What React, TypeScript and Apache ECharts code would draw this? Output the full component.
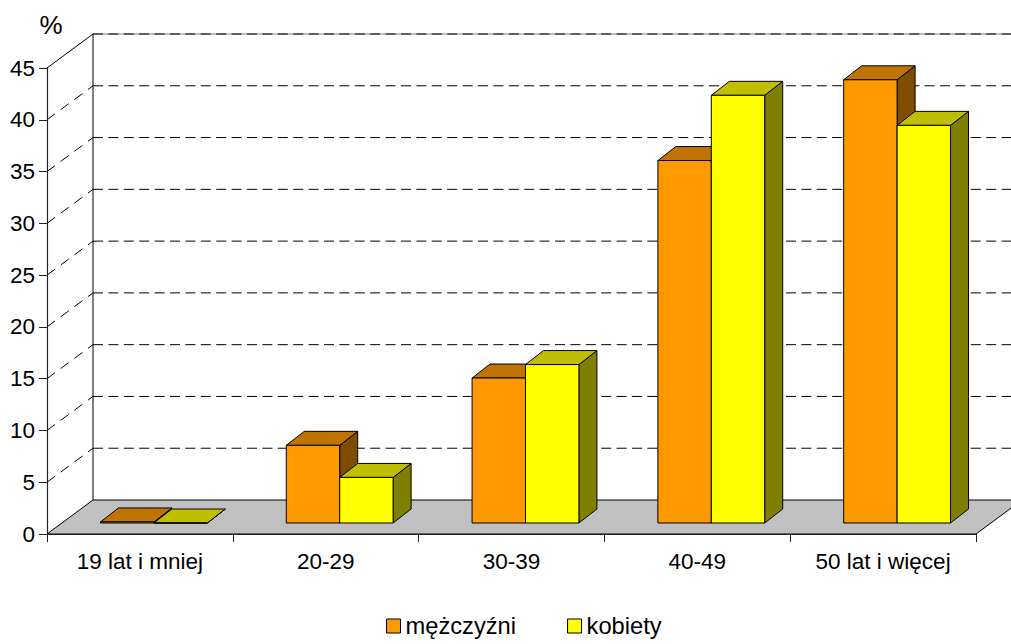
import React, { useEffect, useRef } from "react";
import * as echarts from "echarts";

const categories = ["19 lat i mniej", "20-29", "30-39", "40-49", "50 lat i więcej"];
const menValues = [0.1, 7.5, 14, 35, 42.8];
const womenValues = [0, 4.4, 15.3, 41.3, 38.4];
const yTicks = [0, 5, 10, 15, 20, 25, 30, 35, 40, 45];
const FONT = "'Liberation Sans', Arial, sans-serif";

const WALL_DX = 46, WALL_DY = -34;
const PLANE_DX = 14, PLANE_DY = -11;
const DEPTH_DX = 18, DEPTH_DY = -14;
const BAR_RATIO = 0.2875;

function barRenderer(seriesPos: number, front: string, top: string, side: string) {
  return (_params: any, api: any) => {
    const idx = api.value(0);
    const [cx, yTop] = api.coord([idx, api.value(1)]);
    const [, yBase] = api.coord([idx, 0]);
    const w = api.size([1, 0])[0] * BAR_RATIO;
    const x0 = cx + PLANE_DX + (seriesPos - 1) * w;
    const x1 = x0 + w;
    const yT = yTop + PLANE_DY;
    const yB = yBase + PLANE_DY;
    const stroke = { stroke: "#000", lineWidth: 1, lineJoin: "round" };
    return {
      type: "group",
      children: [
        {
          type: "polygon",
          shape: { points: [[x1, yB], [x1 + DEPTH_DX, yB + DEPTH_DY], [x1 + DEPTH_DX, yT + DEPTH_DY], [x1, yT]] },
          style: { fill: side, ...stroke },
        },
        {
          type: "polygon",
          shape: { points: [[x0, yT], [x0 + DEPTH_DX, yT + DEPTH_DY], [x1 + DEPTH_DX, yT + DEPTH_DY], [x1, yT]] },
          style: { fill: top, ...stroke },
        },
        {
          type: "rect",
          shape: { x: x0, y: yT, width: w, height: yB - yT },
          style: { fill: front, ...stroke },
        },
      ],
    };
  };
}

function wallRenderer(params: any, api: any) {
  const t = api.value(1);
  const [, y] = api.coord([0, t]);
  const left = params.coordSys.x;
  const right = left + params.coordSys.width;
  const bx = left + WALL_DX;
  const by = y + WALL_DY;
  const children: any[] = [];
  if (t === 0) {
    const [, yTop] = api.coord([0, yTicks[yTicks.length - 1]]);
    children.push({
      type: "polygon",
      shape: { points: [[left, y], [bx, by], [right + WALL_DX, by], [right, y]] },
      style: { fill: "#C0C0C0", stroke: "#000", lineWidth: 1 },
    });
    children.push({
      type: "line",
      shape: { x1: bx, y1: by, x2: bx, y2: yTop + WALL_DY },
      style: { stroke: "#000", lineWidth: 1 },
    });
  } else {
    const isTop = t === yTicks[yTicks.length - 1];
    if (isTop) {
      children.push({
        type: "line",
        shape: { x1: left, y1: y, x2: bx, y2: by },
        style: { stroke: "#000", lineWidth: 1 },
      });
      children.push({
        type: "line",
        shape: { x1: bx, y1: by, x2: right + WALL_DX, y2: by },
        style: { stroke: "#808080", lineWidth: 1 },
      });
    } else {
      children.push({
        type: "line",
        shape: { x1: left, y1: y, x2: bx, y2: by },
        style: { stroke: "#000", lineWidth: 1, lineDash: [10, 7] },
      });
    }
    children.push({
      type: "line",
      shape: { x1: bx, y1: by, x2: right + WALL_DX, y2: by },
      style: { stroke: "#000", lineWidth: 1, lineDash: [10, 5.4] },
    });
  }
  return { type: "group", children };
}

export default function App() {
  const ref = useRef<HTMLDivElement>(null);
  useEffect(() => {
    const chart = echarts.init(ref.current!, undefined, { renderer: "svg" });
    const legendText = { fontFamily: FONT, fontSize: 23.7, color: "#000" };
    chart.setOption({
      animation: false,
      backgroundColor: "#fff",
      grid: { left: 47, right: 35, top: 68, bottom: 110 },
      legend: {
        left: 386,
        top: 614,
        padding: 0,
        itemWidth: 14,
        itemHeight: 14,
        itemGap: 51,
        selectedMode: false,
        textStyle: legendText,
        data: [
          { name: "mężczyźni", icon: "rect", itemStyle: { color: "#FF9900", borderColor: "#000", borderWidth: 1 } },
          { name: "kobiety", icon: "rect", itemStyle: { color: "#FFFF00", borderColor: "#000", borderWidth: 1 } },
        ],
      },
      xAxis: {
        type: "category",
        data: categories,
        z: 5,
        axisLine: { lineStyle: { color: "#222", width: 1.2 } },
        axisTick: { show: true, length: 8, lineStyle: { color: "#222" } },
        axisLabel: { color: "#000", fontFamily: FONT, fontSize: 22.5, margin: 16, interval: 0 },
      },
      yAxis: {
        type: "value",
        min: 0,
        max: 45,
        interval: 5,
        z: 5,
        name: "%",
        nameLocation: "end",
        nameGap: 30,
        nameTextStyle: { color: "#000", fontFamily: FONT, fontSize: 26, padding: [0, 0, 0, 8] },
        splitLine: { show: false },
        axisLine: { show: true, lineStyle: { color: "#222", width: 1.2 } },
        axisTick: { show: true, length: 8, lineStyle: { color: "#222" } },
        axisLabel: { color: "#000", fontFamily: FONT, fontSize: 22.5, margin: 12 },
      },
      series: [
        {
          type: "custom",
          name: "walls",
          z: 1,
          silent: true,
          renderItem: wallRenderer,
          data: yTicks.map((t) => [0, t]),
        },
        {
          type: "custom",
          name: "mężczyźni",
          z: 2,
          color: "#FF9900",
          renderItem: barRenderer(0, "#FF9900", "#BF7300", "#804D00"),
          data: menValues.map((v, i) => [i, v]),
        },
        {
          type: "custom",
          name: "kobiety",
          z: 3,
          color: "#FFFF00",
          renderItem: barRenderer(1, "#FFFF00", "#BFBF00", "#808000"),
          data: womenValues.map((v, i) => [i, v]),
        },
      ],
    });
    return () => chart.dispose();
  }, []);
  return <div ref={ref} style={{ position: "absolute", left: 0, top: 0, width: 1011, height: 644, overflow: "hidden" }} />;
}
